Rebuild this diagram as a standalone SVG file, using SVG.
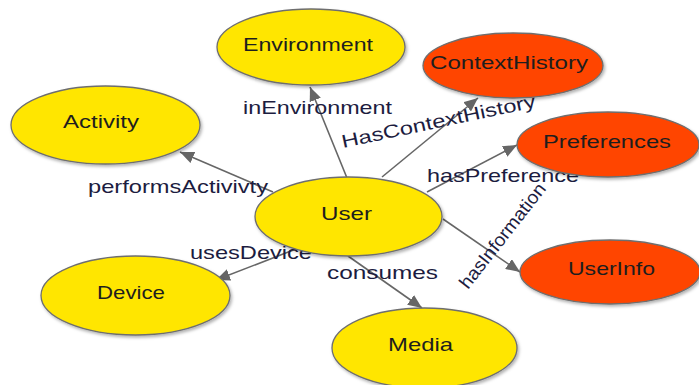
<svg xmlns="http://www.w3.org/2000/svg" width="699" height="385" viewBox="0 0 699 385">
<style>
.node-y{fill:#ffe600;stroke:#6e6e6e;stroke-width:1.3}
.node-r{fill:#ff4500;stroke:#6e6e6e;stroke-width:1.3}
.nl{font-family:"Liberation Sans",Arial,sans-serif;font-size:18.5px;fill:#1e1e1e;text-anchor:start}
.el{font-family:"Liberation Sans",Arial,sans-serif;font-size:18.5px;fill:#1c1c40}
.edge{stroke:#666;stroke-width:1.6;fill:none;marker-end:url(#arr)}
</style>
<defs>
<marker id="arr" markerUnits="userSpaceOnUse" markerWidth="16" markerHeight="12" refX="14" refY="6" orient="auto">
<path d="M0,0 L14,6 L0,12 Z" fill="#666"/>
</marker>
<filter id="sh" x="-10%" y="-10%" width="125%" height="130%">
<feDropShadow dx="1.5" dy="2" stdDeviation="1.5" flood-color="#000" flood-opacity="0.3"/>
</filter>
</defs>
<rect width="699" height="385" fill="#fff"/>
<g id="connectors">
<line class="edge" x1="273" y1="192" x2="180" y2="152"/>
<line class="edge" x1="347" y1="178" x2="310" y2="87"/>
<line class="edge" x1="382" y1="177" x2="478" y2="98"/>
<line class="edge" x1="427" y1="192" x2="517" y2="145"/>
<line class="edge" x1="443" y1="219" x2="520" y2="272"/>
<line class="edge" x1="348" y1="256" x2="422" y2="308"/>
<line class="edge" x1="296" y1="249" x2="216" y2="280"/>
<text class="el" x="88" y="193" textLength="180" lengthAdjust="spacingAndGlyphs">performsActivivty</text>
<text class="el" x="243" y="114" textLength="149" lengthAdjust="spacingAndGlyphs">inEnvironment</text>
<text class="el" x="343" y="148" textLength="198" lengthAdjust="spacingAndGlyphs" transform="rotate(-12 343 148)">HasContextHistory</text>
<text class="el" x="427" y="182" textLength="152" lengthAdjust="spacingAndGlyphs">hasPreference</text>
<text class="el" x="468" y="290" textLength="128" lengthAdjust="spacingAndGlyphs" transform="rotate(-52 468 290)">hasInformation</text>
<text class="el" x="327" y="279" textLength="111" lengthAdjust="spacingAndGlyphs">consumes</text>
<text class="el" x="190" y="259" textLength="122" lengthAdjust="spacingAndGlyphs">usesDevice</text>
</g>
<g id="Environment"><ellipse class="node-y" filter="url(#sh)" cx="311" cy="47" rx="94" ry="38"/><text class="nl" x="243" y="51" textLength="130" lengthAdjust="spacingAndGlyphs">Environment</text></g>
<g id="Activity"><ellipse class="node-y" filter="url(#sh)" cx="105.5" cy="125" rx="94.5" ry="39"/><text class="nl" x="63" y="128" textLength="76" lengthAdjust="spacingAndGlyphs">Activity</text></g>
<g id="ContextHistory"><ellipse class="node-r" filter="url(#sh)" cx="513" cy="65.5" rx="90" ry="32.5"/><text class="nl" x="430" y="69" textLength="158" lengthAdjust="spacingAndGlyphs">ContextHistory</text></g>
<g id="Preferences"><ellipse class="node-r" filter="url(#sh)" cx="608" cy="144.5" rx="91" ry="32.5"/><text class="nl" x="543" y="148" textLength="128" lengthAdjust="spacingAndGlyphs">Preferences</text></g>
<g id="User"><ellipse class="node-y" filter="url(#sh)" cx="348.5" cy="216.5" rx="93.5" ry="39.5"/><text class="nl" x="321" y="220" textLength="51" lengthAdjust="spacingAndGlyphs">User</text></g>
<g id="UserInfo"><ellipse class="node-r" filter="url(#sh)" cx="610" cy="272" rx="90" ry="32"/><text class="nl" x="568" y="275" textLength="87" lengthAdjust="spacingAndGlyphs">UserInfo</text></g>
<g id="Device"><ellipse class="node-y" filter="url(#sh)" cx="135.5" cy="295.5" rx="94.5" ry="39.5"/><text class="nl" x="97" y="299" textLength="68" lengthAdjust="spacingAndGlyphs">Device</text></g>
<g id="Media"><ellipse class="node-y" filter="url(#sh)" cx="424.5" cy="348" rx="92.5" ry="40"/><text class="nl" x="388" y="351" textLength="65" lengthAdjust="spacingAndGlyphs">Media</text></g>
</svg>
